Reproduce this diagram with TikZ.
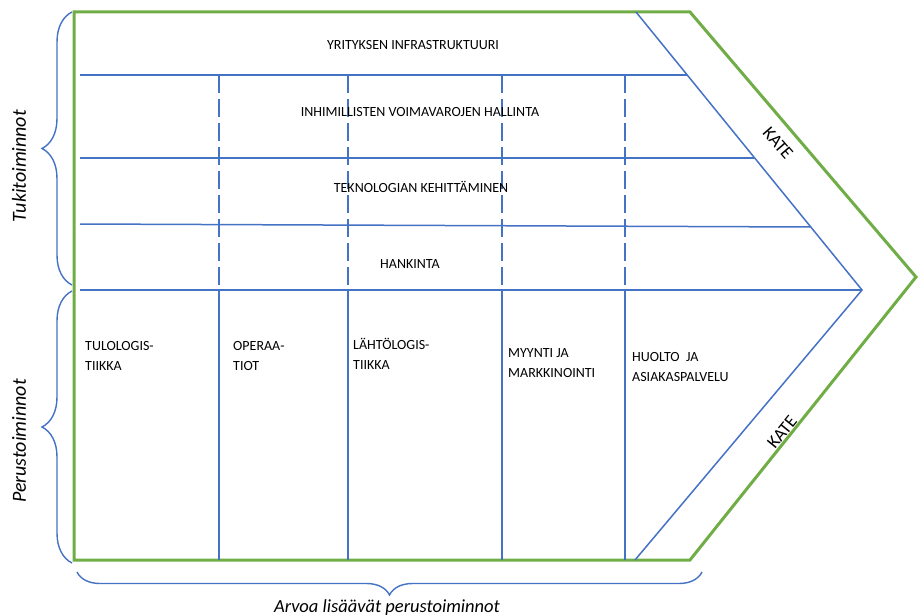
\documentclass[tikz,border=0pt]{standalone}
\usepackage{fontspec}
\setmainfont{Carlito}
\usetikzlibrary{decorations.pathreplacing}
\definecolor{framegreen}{RGB}{112,173,71}
\definecolor{gridblue}{RGB}{68,114,196}
\begin{document}
\begin{tikzpicture}[x=1pt,y=-1pt,
  frame/.style={draw=framegreen, line width=3pt, line join=miter},
  gridline/.style={draw=gridblue, line width=1.5pt},
  dashgrid/.style={gridline, dash pattern=on 18pt off 6pt},
  lbl/.style={font=\fontsize{14}{20}\selectfont, inner sep=0pt},
  rowlbl/.style={lbl, anchor=base},
  collbl/.style={lbl, anchor=base west, align=left},
  kate/.style={font=\fontsize{18}{20}\selectfont, inner sep=0pt},
  side/.style={font=\fontsize{20}{22}\selectfont\itshape, inner sep=0pt},
  bracket/.style={draw=gridblue, line width=1.4pt, decorate,
    decoration={brace, amplitude=#1}}
]
\useasboundingbox (0,0) rectangle (918,615);

% outer arrow-shaped frame
\coordinate (f1) at (74,12);
\coordinate (f2) at (690,12);
\coordinate (f3) at (916,277);
\coordinate (f4) at (690,560);
\coordinate (f5) at (74,560);
\draw[frame] (f1) -- (f2) -- (f3) -- (f4) -- (f5) -- cycle;

% inner margin boundary
\coordinate (d1) at (636,12);
\coordinate (tip) at (862,290);
\coordinate (d2) at (635,560);
\draw[gridline] (d1) -- (tip) -- (d2);

% support activity rows
\coordinate (r1a) at (80,75);   \coordinate (r1b) at (687,75);
\coordinate (r2a) at (80,158);  \coordinate (r2b) at (754,158);
\coordinate (r3a) at (80,224);  \coordinate (r3b) at (810,227);
\coordinate (r4a) at (80,290);
\draw[gridline] (r1a) -- (r1b);
\draw[gridline] (r2a) -- (r2b);
\draw[gridline] (r3a) -- (r3b);
\draw[gridline] (r4a) -- (tip);

% column dividers: dashed through support rows, solid through primary row
\foreach \cx [count=\i] in {219,348,502,625}{
  \coordinate (ct\i) at (\cx,75);
  \coordinate (cm\i) at (\cx,290);
  \coordinate (cb\i) at (\cx,560);
  \draw[dashgrid] (ct\i) -- (cm\i);
  \draw[gridline] (cm\i) -- (cb\i);
}

% row labels
\node[rowlbl] (infra) at (413,50)  {YRITYKSEN INFRASTRUKTUURI};
\node[rowlbl] (hr)    at (420,117) {INHIMILLISTEN VOIMAVAROJEN HALLINTA};
\node[rowlbl] (tech)  at (421,192) {TEKNOLOGIAN KEHITTÄMINEN};
\node[rowlbl] (proc)  at (410,268) {HANKINTA};

% primary activity labels (anchored on the baseline of the second line)
\node[collbl] (inlog)  at (85,370)  {TULOLOGIS-\\TIIKKA};
\node[collbl] (oper)   at (233,370) {OPERAA-\\TIOT};
\node[collbl] (outlog) at (353,369) {LÄHTÖLOGIS-\\TIIKKA};
\node[collbl] (sales)  at (508,377) {MYYNTI JA\\MARKKINOINTI};
\node[collbl] (serv)   at (632,381) {HUOLTO~~JA\\ASIAKASPALVELU};

% margin labels
\node[kate, rotate=-49] (kate1) at (778,143) {KATE};
\node[kate, rotate=51]  (kate2) at (782,432) {KATE};

% grouping braces
\draw[bracket=30pt] (72,285) -- (72,12);
\draw[bracket=30pt] (72,563) -- (72,291);
\draw[bracket=23pt] (702,572) -- (77,572);

\node[side, rotate=90] (support) at (19,166) {Tukitoiminnot};
\node[side, rotate=90] (primary) at (19,441) {Perustoiminnot};
\node[font=\fontsize{18.5}{20}\selectfont\itshape, inner sep=0pt, anchor=base]
  (value) at (387,612) {Arvoa lisäävät perustoiminnot};
\end{tikzpicture}
\end{document}
